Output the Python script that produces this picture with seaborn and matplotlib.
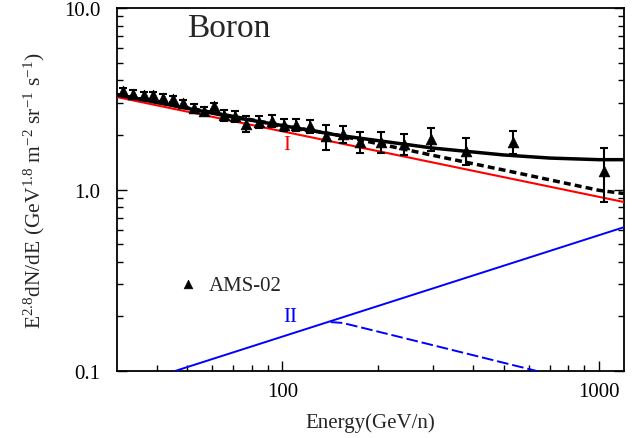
import numpy as np
import pandas as pd
import matplotlib
matplotlib.use("Agg")
import matplotlib.pyplot as plt
import seaborn as sns
from matplotlib.ticker import FixedLocator, NullFormatter

# ---------------- data ----------------
ams_E = [31.3, 33.8, 36.4, 39.1, 41.8, 45.0, 48.5, 52.4, 56.4, 60.6, 65.2, 70.8,
         76.8, 84.2, 92.8, 100.9, 110.7, 121.9, 137.6, 155.4, 176.2, 205.2,
         242.5, 294.4, 380.4, 534.1, 1038]
ams_flux = [3.47, 3.38, 3.32, 3.30, 3.21, 3.15, 3.00, 2.81, 2.71, 2.87, 2.57, 2.54,
            2.30, 2.36, 2.39, 2.27, 2.27, 2.23, 1.97, 2.02, 1.83, 1.83,
            1.78, 1.90, 1.64, 1.83, 1.27]
ams_err = [0.14, 0.14, 0.13, 0.13, 0.13, 0.13, 0.13, 0.13, 0.13, 0.14, 0.18, 0.18,
           0.23, 0.17, 0.17, 0.17, 0.17, 0.18, 0.31, 0.22, 0.24, 0.24,
           0.24, 0.27, 0.28, 0.26, 0.42]

total_E = [30, 50, 70, 100, 150, 200, 300, 500, 700, 1000, 1200]
total_flux = [3.33, 2.80, 2.50, 2.25, 1.99, 1.86, 1.69, 1.55, 1.49, 1.46, 1.46]

total_cut_E = [30, 100, 144, 200, 300, 500, 700, 1000, 1200]
total_cut_flux = [3.33, 2.25, 2.02, 1.79, 1.54, 1.28, 1.13, 0.99, 0.95]

comp1_E = [30, 1200]
comp1_flux = [3.23, 0.853]

comp2_E = [30, 1200]
comp2_flux = [0.079, 0.62]

comp2_cut_E = [142, 155, 200, 300, 500, 700]
comp2_cut_flux = [0.186, 0.184, 0.165, 0.1385, 0.111, 0.096]

x_major = [100, 1000]
x_major_labels = ["100", "1000"]
y_major = [0.1, 1.0, 10.0]
y_major_labels = ["0.1", "1.0", "10.0"]

# ---------------- style ----------------
sns.set_style("ticks")
plt.rcParams['font.family'] = ['Liberation Serif', 'DejaVu Serif']
plt.rcParams['mathtext.fontset'] = 'custom'
plt.rcParams['mathtext.rm'] = 'Liberation Serif'
plt.rcParams['mathtext.it'] = 'Liberation Serif:italic'
plt.rcParams['mathtext.bf'] = 'Liberation Serif:bold'

fig = plt.figure(figsize=(6.34, 4.39), dpi=100)
ax = fig.add_axes([0.1845, 0.1526, 0.7997, 0.8269])

# ---------------- lines ----------------
df_tot = pd.DataFrame({"E": total_E, "F": total_flux})
df_cut = pd.DataFrame({"E": total_cut_E, "F": total_cut_flux})
df_c1 = pd.DataFrame({"E": comp1_E, "F": comp1_flux})
df_c2 = pd.DataFrame({"E": comp2_E, "F": comp2_flux})
df_c2c = pd.DataFrame({"E": comp2_cut_E, "F": comp2_cut_flux})

sns.lineplot(data=df_c1, x="E", y="F", ax=ax, color="#ff0000", lw=1.5, zorder=3)
sns.lineplot(data=df_c2, x="E", y="F", ax=ax, color="#0000ff", lw=1.4, zorder=3)
sns.lineplot(data=df_c2c, x="E", y="F", ax=ax, color="#0000ff", lw=1.4,
             linestyle=(0, (6, 2)), zorder=3)
sns.lineplot(data=df_cut, x="E", y="F", ax=ax, color="black", lw=2.5,
             linestyle=(0, (2, 1.2)), zorder=4)
sns.lineplot(data=df_tot, x="E", y="F", ax=ax, color="black", lw=2.5, zorder=4)

# ---------------- data points ----------------
ax.errorbar(ams_E, ams_flux, yerr=ams_err, fmt="none", ecolor="black",
            elinewidth=1.5, capsize=3.0, capthick=1.5, zorder=5)
df_ams = pd.DataFrame({"E": ams_E, "F": ams_flux})
sns.scatterplot(data=df_ams, x="E", y="F", ax=ax, marker="^", s=60,
                color="black", edgecolor="black", linewidth=0.5, zorder=6,
                label="AMS-02")

# ---------------- axes ----------------
ax.set_xscale("log")
ax.set_yscale("log")
ax.set_xlim(30, 1200)
ax.set_ylim(0.1, 10.0)

ax.xaxis.set_major_locator(FixedLocator(x_major))
ax.set_xticklabels(x_major_labels)
ax.xaxis.set_minor_locator(FixedLocator([40, 50, 60, 70, 80, 90, 200, 300, 400,
                                         500, 600, 700, 800, 900]))
ax.xaxis.set_minor_formatter(NullFormatter())
ax.yaxis.set_major_locator(FixedLocator(y_major))
ax.set_yticklabels(y_major_labels)
ax.yaxis.set_minor_locator(FixedLocator([0.2, 0.3, 0.4, 0.5, 0.6, 0.7, 0.8, 0.9,
                                         2, 3, 4, 5, 6, 7, 8, 9]))
ax.yaxis.set_minor_formatter(NullFormatter())

ax.tick_params(axis="both", which="both", direction="in", top=False, right=True,
               labelsize=15, width=1.0, colors="black")
ax.tick_params(axis="both", which="major", length=7)
ax.tick_params(axis="both", which="minor", length=4)
ax.tick_params(axis="x", which="major", pad=8)
ax.tick_params(axis="y", which="major", pad=12)
for s in ax.spines.values():
    s.set_visible(True)
    s.set_linewidth(1.3)
    s.set_color("black")

ax.set_xlabel("Energy(GeV/n)", fontsize=15, labelpad=8)
ax.set_ylabel(r"E$^{\mathrm{2.8}}$dN/dE (GeV$^{\mathrm{1.8}}$ m$^{\mathrm{-2}}$ sr$^{\mathrm{-1}}$ s$^{\mathrm{-1}}$)",
              fontsize=15.5, labelpad=12)

ax.text(0.138, 0.923, "Boron", transform=ax.transAxes, fontsize=24,
        ha="left", va="baseline")
ax.text(0.335, 0.625, "I", transform=ax.transAxes, fontsize=15, color="#ff0000",
        ha="center", va="center")
ax.text(0.341, 0.149, "II", transform=ax.transAxes, fontsize=15, color="#0000ff",
        ha="center", va="center")

leg = ax.legend(loc="center left", bbox_to_anchor=(0.1196, 0.237), frameon=False,
                fontsize=15, handlelength=1.0, handletextpad=0.5, borderpad=0,
                borderaxespad=0, markerscale=0.8)

fig.savefig("out.png", dpi=100)
